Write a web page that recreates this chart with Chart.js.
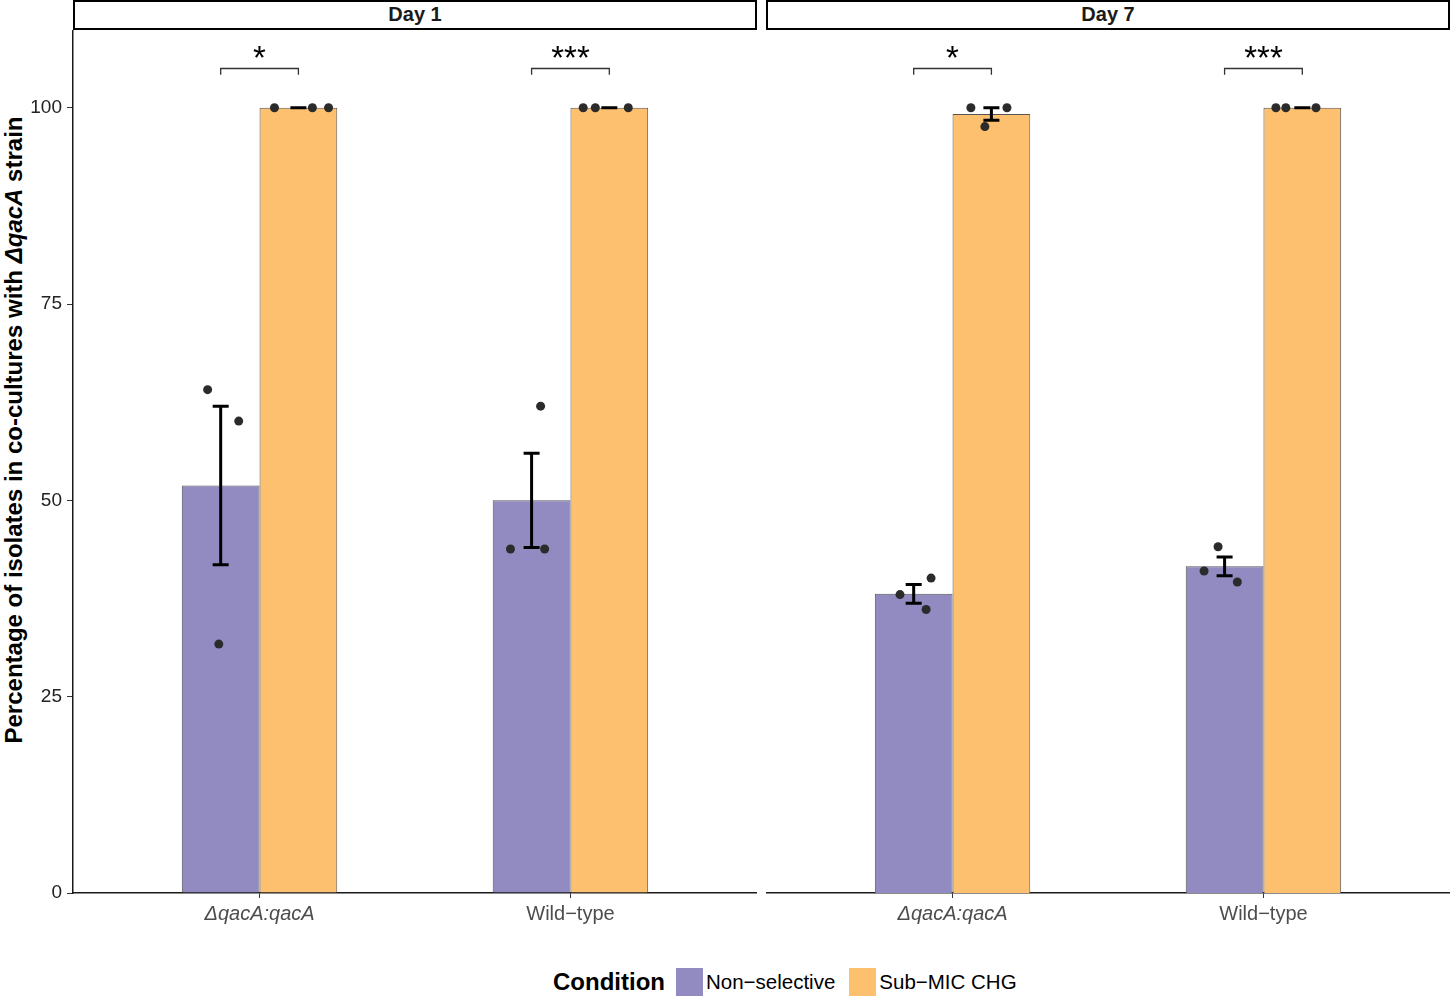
<!DOCTYPE html>
<html>
<head>
<meta charset="utf-8">
<script src="https://cdn.jsdelivr.net/npm/chart.js@4.4.1/dist/chart.umd.min.js"></script>
<style>
    body { margin: 0; background: #fff; font-family: "Liberation Sans", Arial, sans-serif; }
    #wrap { position: relative; width: 1450px; height: 999px; overflow: hidden; }
    canvas { position: absolute; }
    .strip { position: absolute; top: 0; height: 26px; border: 2px solid #000; background: #fff;
             font-weight: bold; font-size: 20px; line-height: 25px; text-align: center; color: #1a1a1a; }
    #ytitle { position: absolute; width: 900px; left: -436px; top: 416px; text-align: center;
              transform: rotate(-90deg); font-weight: bold; font-size: 24px; color: #000; white-space: nowrap; }
    #legend { position: absolute; top: 967px; left: 553px; height: 30px; display: flex; align-items: center;
              font-size: 20.5px; color: #000; }
    #legend .title { font-weight: bold; font-size: 24px; margin-right: 11px; }
    #legend .key { width: 27px; height: 28px; margin-right: 3px; }
    #legend .lab { margin-right: 14px; }
</style>
</head>
<body>
<div id="wrap">
    <div class="strip" style="left:73px; width:680px;">Day 1</div>
    <div class="strip" style="left:766px; width:680px;">Day 7</div>
    <div id="ytitle">Percentage of isolates in co-cultures with <i>ΔqacA</i> strain</div>
    <canvas id="day1" width="757" height="900" style="left:0; top:30px;"></canvas>
    <canvas id="day7" width="684" height="900" style="left:766px; top:30px;"></canvas>
    <div id="legend">
        <span class="title">Condition</span>
        <span class="key" style="background:#918bc1;"></span><span class="lab">Non−selective</span>
        <span class="key" style="background:#fdc06f;"></span><span class="lab">Sub−MIC CHG</span>
    </div>
</div>
<script>
// Categories
const strains = ['ΔqacA:qacA', 'Wild−type'];
const conditions = ['Non−selective', 'Sub−MIC CHG'];
const yTicks = [0, 25, 50, 75, 100];

// Mean % per strain
const day1NonSelective = [51.9, 50.0];
const day1SubMic = [100, 100];
const day7NonSelective = [38.1, 41.6];
const day7SubMic = [99.2, 100];

// Standard error per strain
const day1NonSelectiveSe = [10.1, 6.0];
const day1SubMicSe = [0, 0];
const day7NonSelectiveSe = [1.2, 1.2];
const day7SubMicSe = [0.8, 0];

// Replicates per strain
const day1NonSelectiveReps = [[64.1, 60.1, 31.7], [62.0, 43.8, 43.8]];
const day1SubMicReps = [[100, 100, 100], [100, 100, 100]];
const day7NonSelectiveReps = [[38.0, 40.1, 36.1], [44.1, 41.0, 39.6]];
const day7SubMicReps = [[100, 100, 97.6], [100, 100, 100]];

// Horizontal jitter of the replicates (category units)
const day1NonSelectiveJitter = [[-0.042, 0.058, -0.006], [0.029, -0.068, 0.042]];
const day1SubMicJitter = [[-0.077, 0.045, 0.097], [-0.084, -0.045, 0.061]];
const day7NonSelectiveJitter = [[-0.044, 0.056, 0.040], [-0.021, -0.066, 0.041]];
const day7SubMicJitter = [[-0.066, 0.050, -0.021], [-0.085, -0.053, 0.044]];

// Significance labels per strain
const day1Stars = ['*', '***'];
const day7Stars = ['*', '***'];
const bracketY = 105;

const purple = '#918bc1';
const orange = '#fdc06f';
const dodge = 0.125;

/*
* Error bars, drawn just before the replicate points
*/
const errorBarPlugin = {
    id: 'errorBars',
    beforeDatasetDraw(chart, args) {
        if (args.meta.type !== 'scatter') return;
        const x = chart.scales.x, y = chart.scales.y;
        const ctx = chart.ctx;
        const f = chart.options.plugins.errorBars;
        ctx.save();
        ctx.strokeStyle = '#000';
        ctx.lineWidth = 3;
        f.sets.forEach(function(set) {
            set.means.forEach(function(m, i) {
                const px = x.getPixelForValue(i + 1 + set.shift);
                const top = y.getPixelForValue(m + set.se[i]);
                const bot = y.getPixelForValue(m - set.se[i]);
                ctx.beginPath();
                ctx.moveTo(px, top); ctx.lineTo(px, bot);
                ctx.moveTo(px - 8, top); ctx.lineTo(px + 8, top);
                ctx.moveTo(px - 8, bot); ctx.lineTo(px + 8, bot);
                ctx.stroke();
            });
        });
        ctx.restore();
    },
    afterDraw(chart) {
        // significance brackets
        const x = chart.scales.x, y = chart.scales.y;
        const ctx = chart.ctx;
        const stars = chart.options.plugins.errorBars.stars;
        ctx.save();
        ctx.strokeStyle = '#333';
        ctx.lineWidth = 1.3;
        ctx.fillStyle = '#000';
        ctx.font = '33px "Liberation Sans", Arial, sans-serif';
        ctx.textAlign = 'center';
        ctx.textBaseline = 'alphabetic';
        stars.forEach(function(s, i) {
            const x0 = x.getPixelForValue(i + 1 - dodge);
            const x1 = x.getPixelForValue(i + 1 + dodge);
            const yl = y.getPixelForValue(bracketY);
            const yt = y.getPixelForValue(bracketY - 0.8);
            ctx.beginPath();
            ctx.moveTo(x0, yt); ctx.lineTo(x0, yl); ctx.lineTo(x1, yl); ctx.lineTo(x1, yt);
            ctx.stroke();
            ctx.fillText(s, (x0 + x1) / 2, yl + 1);
        });
        ctx.restore();
    }
};

function barData(means) {
    return means.map(function(v, i) { return {x: i + 1, y: v}; });
}

function pointData(reps, jitter, shift) {
    var pts = [];
    reps.forEach(function(r, i) {
        r.forEach(function(v, k) {
            pts.push({x: i + 1 + shift + jitter[i][k], y: v});
        });
    });
    return pts;
}

function MakeFacet(id, nonSel, subMic, nonSelSe, subMicSe, nonSelReps, subMicReps, nonSelJit, subMicJit, stars, showY) {
    const points = pointData(nonSelReps, nonSelJit, -dodge).concat(pointData(subMicReps, subMicJit, dodge));
    return new Chart(document.getElementById(id), {
        type: 'bar',
        data: {
            datasets: [
                {
                    type: 'scatter',
                    label: 'replicates',
                    data: points,
                    pointRadius: 4.5,
                    pointBackgroundColor: '#2b2b2b',
                    pointBorderWidth: 0,
                    clip: false
                },
                {
                    label: conditions[0],
                    data: barData(nonSel),
                    backgroundColor: purple,
                    borderColor: '#555',
                    borderWidth: 1,
                    borderSkipped: 'bottom',
                    categoryPercentage: 0.5,
                    barPercentage: 1
                },
                {
                    label: conditions[1],
                    data: barData(subMic),
                    backgroundColor: orange,
                    borderColor: '#555',
                    borderWidth: 1,
                    borderSkipped: 'bottom',
                    categoryPercentage: 0.5,
                    barPercentage: 1
                }
            ]
        },
        options: {
            responsive: false,
            animation: false,
            devicePixelRatio: 1,
            layout: { padding: 0, autoPadding: false },
            plugins: {
                legend: { display: false },
                tooltip: { enabled: false },
                errorBars: {
                    sets: [
                        { means: nonSel, se: nonSelSe, shift: -dodge },
                        { means: subMic, se: subMicSe, shift: dodge }
                    ],
                    stars: stars
                }
            },
            scales: {
                x: {
                    type: 'linear',
                    min: 0.4,
                    max: 2.6,
                    offset: false,
                    grid: { display: true, drawOnChartArea: false, drawTicks: true, tickLength: 5, color: '#333', offset: false },
                    border: { display: true, color: '#1a1a1a', width: 1.5 },
                    afterBuildTicks: function(scale) {
                        scale.ticks = strains.map(function(s, i) { return {value: i + 1}; });
                    },
                    ticks: {
                        color: '#4d4d4d',
                        padding: 4,
                        maxRotation: 0,
                        autoSkip: false,
                        font: function(ctx) {
                            return {family: '"Liberation Sans", Arial, sans-serif', size: 20, style: ctx.index === 0 ? 'italic' : 'normal'};
                        },
                        callback: function(v) { return strains[Math.round(v) - 1]; }
                    },
                    afterFit: function(scale) {
                        scale.height = 37;
                        scale.paddingLeft = 0;
                        scale.paddingRight = 0;
                    }
                },
                y: {
                    display: showY,
                    min: 0,
                    max: 109.9,
                    grid: { display: true, drawOnChartArea: false, drawTicks: true, tickLength: 6, color: '#333' },
                    border: { display: true, color: '#1a1a1a', width: 1.5 },
                    afterBuildTicks: function(scale) {
                        scale.ticks = yTicks.map(function(v) { return {value: v}; });
                    },
                    ticks: {
                        color: '#222',
                        padding: 5,
                        font: { family: '"Liberation Sans", Arial, sans-serif', size: 19 }
                    },
                    afterFit: function(scale) {
                        scale.width = showY ? 73 : 0;
                        scale.paddingTop = 0;
                        scale.paddingBottom = 0;
                    }
                }
            }
        },
        plugins: [errorBarPlugin]
    });
}

window.onload = function() {
    MakeFacet('day1', day1NonSelective, day1SubMic, day1NonSelectiveSe, day1SubMicSe,
        day1NonSelectiveReps, day1SubMicReps, day1NonSelectiveJitter, day1SubMicJitter, day1Stars, true);
    MakeFacet('day7', day7NonSelective, day7SubMic, day7NonSelectiveSe, day7SubMicSe,
        day7NonSelectiveReps, day7SubMicReps, day7NonSelectiveJitter, day7SubMicJitter, day7Stars, false);
}
</script>
</body>
</html>
